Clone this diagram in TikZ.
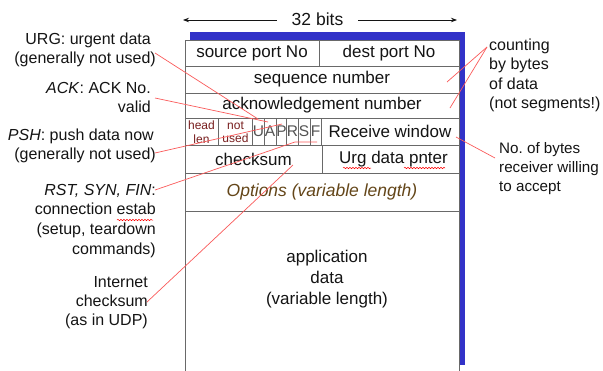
\documentclass[tikz,border=0pt]{standalone}
\usepackage{fontspec}
\setmainfont{Liberation Sans}
\frenchspacing
\usetikzlibrary{arrows.meta,decorations.pathmorphing}
\definecolor{tcpblue}{RGB}{50,50,200}
\definecolor{fieldgray}{RGB}{105,105,105}
\definecolor{redline}{RGB}{250,90,90}
\definecolor{smallred}{RGB}{120,30,30}
\definecolor{optbrown}{RGB}{100,70,25}
\definecolor{txt}{RGB}{20,20,20}
\begin{document}
\begin{tikzpicture}[x=1pt,y=-1pt,
  fld/.style={draw=fieldgray, line width=0.9pt, fill=white, inner sep=0pt, text=txt,
    font=\fontsize{17}{20}\selectfont},
  small/.style={fld, font=\fontsize{12}{13.5}\selectfont, text=smallred, align=center},
  flag/.style={fld, font=\fontsize{15.5}{17}\selectfont, text=fieldgray!80!black},
  lbl/.style={inner sep=0pt, text=txt, font=\fontsize{16}{19.2}\selectfont},
  conn/.style={draw=redline, line width=0.7pt},
  spell/.style={draw=red, line width=0.5pt, decorate, decoration={snake, amplitude=0.7pt, segment length=3pt}},
  arr/.style={-{Stealth[length=6pt,width=4.5pt]}, line width=0.8pt, draw=txt}
]
\useasboundingbox (0,0) rectangle (603,370);
% blue shadow and frame
\fill[tcpblue] (190,32) rectangle (465,365);
\draw[fieldgray, line width=0.9pt, fill=white] (185,372) -- (185,40) -- (459,40) -- (459,372);
% 32 bits
\node[inner sep=0pt, minimum width=81pt, text=txt, font=\fontsize{17.5}{20}\selectfont] (bits) at (317.5,19) {32 bits};
\coordinate (bitsL) at (183,20);
\coordinate (bitsR) at (457,20);
\draw[arr] (bits.west |- bitsL) -- (bitsL);
\draw[arr] (bits.east |- bitsR) -- (bitsR);
% fields
\node[fld, minimum width=134pt, minimum height=26pt] (src) at (252,53) {source port No};
\node[fld, minimum width=140pt, minimum height=26pt] (dst) at (389,53) {dest port No};
\node[fld, minimum width=274pt, minimum height=27pt] (seq) at (322,79.5) {sequence number};
\node[fld, minimum width=274pt, minimum height=25pt] (ack) at (322,105.5) {acknowledgement number};
\node[small, minimum width=33pt, minimum height=27pt] (head) at (201.5,132) {head\\len};
\node[small, minimum width=35pt, minimum height=27pt] (notu) at (235.5,132) {not\\used};
\node[flag, minimum width=11pt, minimum height=27pt] (fU) at (258.5,131.5) {U};
\node[flag, minimum width=12pt, minimum height=27pt] (fA) at (270,131.5) {A};
\node[flag, minimum width=11pt, minimum height=27pt] (fP) at (281.5,131.5) {P};
\node[flag, minimum width=11pt, minimum height=27pt] (fR) at (292.5,131.5) {R};
\node[flag, minimum width=12pt, minimum height=27pt] (fS) at (304,131.5) {S};
\node[flag, minimum width=11pt, minimum height=27pt] (fF) at (315.5,131.5) {F};
\node[fld, minimum width=138pt, minimum height=27pt] (rwin) at (390,131.5) {Receive window};
\node[fld, minimum width=137pt, minimum height=28pt] (cks) at (253.5,159) {checksum};
\node[fld, minimum width=137pt, minimum height=28pt] (urg) at (390.5,159) {\hspace*{6pt}Urg data pnter};
\node[fld, minimum width=274pt, minimum height=38pt, font=\fontsize{17.5}{20}\selectfont\itshape, text=optbrown] (opt) at (322,192) {Options (variable length)};
\node[inner sep=0pt, align=center, text=txt, font=\fontsize{17}{21}\selectfont] (data) at (327,279) {application\\data\\(variable length)};
% spell-check underlines
\draw[spell] (343,168) -- (371,168);
\draw[spell] (404,168) -- (445,168);
% left labels
\node[lbl, align=right, anchor=north east] (lURG) at (156,33) {URG: urgent data\hspace*{5pt}\\(generally not used)};
\node[lbl, align=right, anchor=north east] (lACK) at (156,82) {\textit{ACK}: ACK No.\hspace*{5pt}\\valid\hspace*{5pt}};
\node[lbl, align=right, anchor=north east] (lPSH) at (156,129) {\textit{PSH}: push data now\hspace*{2pt}\\(generally not used)};
\node[lbl, align=right, anchor=north east] (lRST) at (156,184) {\textit{RST, SYN, FIN}:\\[0.4pt]connection estab\\[0.4pt](setup, teardown\\[0.4pt]commands)};
\node[lbl, align=right, anchor=north east] (lINT) at (148,276) {Internet\\checksum\\(as in UDP)};
\draw[spell] (117,220) -- (153,220);
% right labels
\node[lbl, align=left, anchor=north west] (lCNT) at (489,39) {counting\\by bytes\\of data\\(not segments!)};
\node[lbl, align=left, anchor=north west, font=\fontsize{15.2}{19.2}\selectfont] (lRCV) at (499,142) {No. of bytes\\receiver willing\\to accept};
% connector endpoints
\coordinate (cURG) at (155,53);
\coordinate (cACK) at (155,98);
\coordinate (cPSH) at (155,153);
\coordinate (cRST) at (155,190);
\coordinate (cINT) at (147,302);
\coordinate (cCNT) at (487,47);
\coordinate (cRCV) at (495,158);
\coordinate (eURG) at (258,119);
\coordinate (eACK) at (268,122);
\coordinate (ePSH) at (282,124);
\coordinate (eRST) at (295,142);
\coordinate (eRST2) at (317,142);
\coordinate (eINT) at (293,165);
\coordinate (eSEQ) at (447,82);
\coordinate (eACKN) at (450,108);
\coordinate (eRCV) at (456,137);
% connectors
\draw[conn] (cURG) -- (eURG);
\draw[conn] (cACK) -- (eACK);
\draw[conn] (cPSH) -- (ePSH);
\draw[conn] (cRST) -- (eRST) -- (eRST2);
\draw[conn] (cINT) -- (eINT);
\draw[conn] (cCNT) -- (eSEQ);
\draw[conn] (cCNT) -- (eACKN);
\draw[conn] (cRCV) -- (eRCV);
\end{tikzpicture}
\end{document}
